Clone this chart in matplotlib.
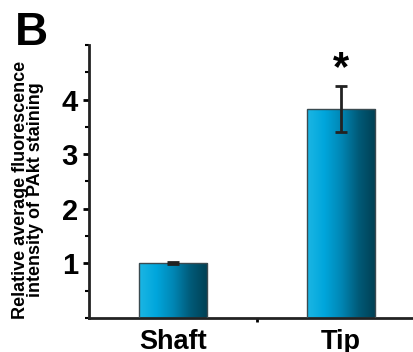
import numpy as np
import matplotlib.pyplot as plt
from matplotlib.colors import LinearSegmentedColormap

plt.rcParams['font.family'] = ['Liberation Sans', 'DejaVu Sans']
plt.rcParams['font.weight'] = 'bold'

categories = ['Shaft', 'Tip']
values = [1.0, 3.83]
errors = [0.02, 0.42]
positions = [0.5, 1.5]

fig = plt.figure(figsize=(4.14, 3.52), dpi=100)
ax = fig.add_axes([0.215, 0.0966, 0.785, 0.7756])

cmap = LinearSegmentedColormap.from_list(
    'bar', ['#1cb6e4', '#00a6dc', '#0086b4', '#005a78', '#003f52'])
grad = np.linspace(0, 1, 256).reshape(1, -1)

bars = ax.bar(positions, values, width=0.405, color='none',
              edgecolor='#3a4a50', linewidth=1.0, zorder=3)
for b in bars:
    x0, w, h = b.get_x(), b.get_width(), b.get_height()
    im = ax.imshow(grad, cmap=cmap, aspect='auto',
                   extent=[x0, x0 + w, 0, h], zorder=2)
    im.set_clip_path(b)

ax.errorbar(positions, values, yerr=errors, fmt='none', ecolor='#222222',
            elinewidth=2, capsize=4.5, capthick=2, zorder=4)
ax.text(positions[1], values[1] + errors[1] + 0.3, '*', ha='center',
        va='center', fontsize=30, fontweight='bold')

ax.set_xlim(0, 1.935)
ax.set_ylim(0, 5)
ax.set_yticks([1, 2, 3, 4])
ax.set_yticks(np.arange(0, 5.01, 0.5), minor=True)
ax.set_xticks([1])
ax.set_xticklabels([''])
ax.tick_params(axis='x', length=3, width=2, direction='out')
for p, c in zip(positions, categories):
    ax.text(p, -0.2, c, ha='center', va='top', fontsize=19.5,
            fontweight='bold', transform=ax.transData)
ax.tick_params(axis='y', which='major', length=4, width=2, labelsize=21, pad=4)
ax.tick_params(axis='y', which='minor', length=3, width=1.5)
for s in ['top', 'right']:
    ax.spines[s].set_visible(False)
for s in ['left', 'bottom']:
    ax.spines[s].set_linewidth(2)
    ax.spines[s].set_color('#222222')
for lab in ax.get_yticklabels():
    lab.set_fontweight('bold')

ax.set_ylabel('Relative average fluorescence\nintensity of PAkt staining',
              fontsize=13, fontweight='bold', linespacing=0.92)
ax.yaxis.set_label_coords(-0.137, 0.47)

fig.text(0.035, 0.97, 'B', fontsize=33, fontweight='bold', va='top', ha='left')

fig.savefig('out.png', dpi=100)
